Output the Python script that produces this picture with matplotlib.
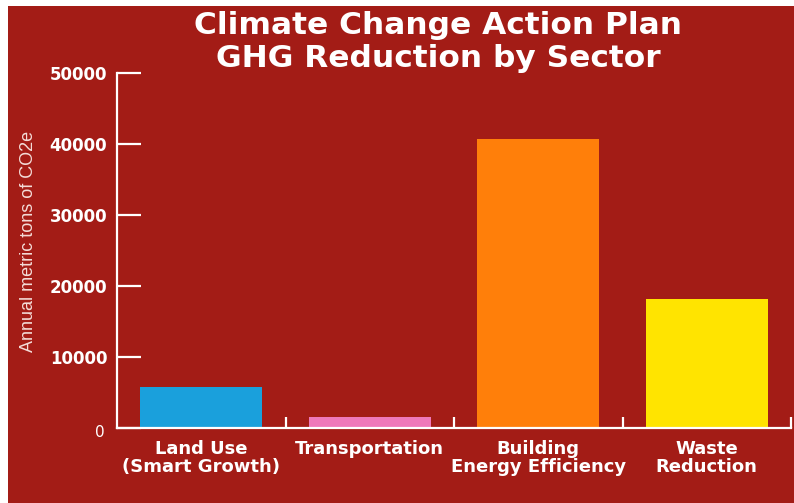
import matplotlib
matplotlib.use("Agg")
import matplotlib.pyplot as plt
import matplotlib.patches as mpatches
from matplotlib.ticker import FixedLocator, NullFormatter

# ---- data -------------------------------------------------------------
sectors = ["Land Use\n(Smart Growth)", "Transportation",
           "Building\nEnergy Efficiency", "Waste\nReduction"]
reductions = [5800, 1550, 40700, 18200]
bar_colors = ["#1aa0dc", "#ef78ba", "#ff7f0a", "#ffe400"]
y_ticks = [0, 10000, 20000, 30000, 40000, 50000]

BG = "#a31c16"
FG = "white"

fig = plt.figure(figsize=(7.94, 5.03), dpi=100, facecolor="white")
# red panel with thin white strip on top/left
fig.patches.append(mpatches.Rectangle((8 / 794, 0), 1, 1 - 6 / 503,
                                      transform=fig.transFigure,
                                      facecolor=BG, edgecolor="none", zorder=-5))

ax = fig.add_axes([117 / 794, 1 - 428 / 503, (791 - 117) / 794, (428 - 73) / 503])
ax.set_facecolor("none")
ax.set_zorder(1)

x = list(range(len(sectors)))
ax.bar(x, reductions, width=0.725, color=bar_colors, zorder=2)

ax.set_xlim(-0.5, len(sectors) - 0.5)
ax.set_ylim(0, 50000)

for side in ["top", "right"]:
    ax.spines[side].set_visible(False)
for side in ["left", "bottom"]:
    ax.spines[side].set_color(FG)
    ax.spines[side].set_linewidth(1.6)

# y ticks point into the plot
ax.set_yticks(y_ticks)
ax.set_yticklabels([""] + [str(v) for v in y_ticks[1:]])
ax.tick_params(axis="y", direction="in", length=17, width=1.6, color=FG,
               labelcolor=FG, labelsize=12, pad=7)
for lbl in ax.get_yticklabels():
    lbl.set_fontweight("bold")
ax.text(-0.018, -700, "0", transform=ax.get_yaxis_transform(), ha="right",
        va="center", color=FG, fontsize=11)

# x ticks at category boundaries, labels centred under bars
ax.xaxis.set_major_locator(FixedLocator([i + 0.5 for i in x]))
ax.xaxis.set_major_formatter(NullFormatter())
ax.tick_params(axis="x", direction="in", length=8, width=1.6, color=FG)
for i, name in zip(x, sectors):
    ax.text(i, -1700, name, ha="center", va="top", color=FG,
            fontsize=13, fontweight="bold", linespacing=1.02)

fig.text(29 / 794, 1 - 241 / 503, "Annual metric tons of CO2e",
         rotation=90, ha="center", va="center", color="#f4dcd8",
         fontsize=13, family="Liberation Sans")

fig.text(438 / 794, 1 - 42 / 503,
         "Climate Change Action Plan\nGHG Reduction by Sector",
         ha="center", va="center", color=FG, fontsize=22.5,
         fontweight="bold", linespacing=1.2)

fig.savefig("out.png", dpi=100, facecolor="white")
